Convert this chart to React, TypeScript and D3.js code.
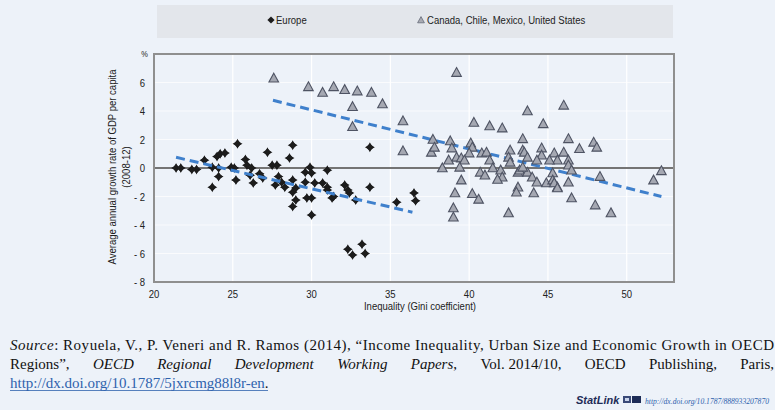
import React, { useLayoutEffect, useRef, useState } from 'react';
import * as d3 from 'd3';

const W = 775;
const H = 410;

const seriesNames = ['Europe', 'Canada, Chile, Mexico, United States'];
const xTicks = [20, 25, 30, 35, 40, 45, 50];
const yTicks = [-8, -6, -4, -2, 0, 2, 4, 6];
const yTickLabels = ['- 8', '- 6', '- 4', '- 2', '0', '2', '4', '6'];

const europeX = [21.4, 21.7, 22.4, 22.7, 23.2, 23.7, 24.0, 24.2, 24.5, 23.7, 24.1, 24.1, 25.3, 24.9, 25.1, 25.2, 25.8, 25.9, 26.2, 26.1, 26.3, 26.7, 26.9, 27.2, 27.5, 27.8, 27.7, 27.9, 28.1, 28.3, 28.8, 28.6, 28.8, 29.0, 28.8, 29.0, 28.8, 29.6, 29.9, 30.0, 29.6, 29.7, 30.0, 30.0, 30.2, 30.7, 31.0, 31.0, 31.0, 31.3, 31.4, 32.1, 32.3, 32.4, 32.8, 33.7, 33.7, 35.4, 36.5, 36.6, 32.3, 32.6, 33.2, 33.4];
const europeY = [0.0, 0.0, -0.1, -0.1, 0.55, -1.35, 0.8, 1.0, 1.05, 0.05, 0.0, -0.6, 1.7, 0.05, 0.0, -0.85, 0.6, 0.2, 0.0, -0.5, -1.05, -0.4, -0.7, 1.1, 0.2, 0.2, -1.2, -0.6, -1.0, -1.35, 1.6, 0.7, -0.85, -1.4, -1.7, -2.25, -2.7, -0.3, 0.05, -0.35, -1.0, -2.1, -2.1, -3.3, -1.05, -1.05, -1.35, -1.55, -0.15, -2.1, -2.0, -1.2, -1.55, -1.75, -2.25, 1.45, -1.35, -2.4, -1.75, -2.3, -5.7, -6.1, -5.35, -6.0];

const americasX = [27.6, 29.8, 30.7, 31.4, 32.1, 32.9, 33.8, 32.6, 34.5, 32.6, 35.8, 35.8, 39.2, 40.3, 41.3, 42.1, 43.7, 44.7, 37.7, 37.6, 38.8, 40.1, 43.4, 42.6, 43.4, 44.6, 37.8, 38.9, 40.2, 40.0, 39.2, 39.5, 39.7, 40.8, 41.1, 41.3, 42.5, 42.6, 43.5, 43.7, 44.6, 44.3, 45.4, 45.6, 38.3, 38.7, 39.4, 40.7, 41.0, 41.5, 42.0, 42.1, 41.8, 43.1, 43.2, 43.7, 44.0, 44.3, 45.3, 45.3, 45.6, 39.5, 39.1, 40.2, 40.6, 43.1, 43.0, 44.1, 39.0, 39.0, 42.5, 44.9, 46.0, 46.3, 47.0, 47.9, 48.1, 46.0, 45.1, 46.3, 46.3, 46.5, 43.4, 45.3, 45.4, 45.6, 46.3, 48.3, 46.5, 48.0, 49.0, 51.7, 52.2];
const americasY = [6.3, 5.7, 5.3, 5.7, 5.5, 5.4, 5.3, 4.3, 4.5, 2.9, 3.3, 1.2, 6.7, 3.2, 2.95, 2.8, 4.0, 3.1, 2.0, 1.1, 1.9, 1.75, 2.05, 1.25, 1.25, 1.4, 1.45, 1.4, 1.45, 1.05, 0.75, 0.7, 0.55, 1.05, 1.1, 0.55, 0.75, 0.4, 1.1, 0.75, 0.9, 0.55, 1.05, 0.55, 0.0, 0.55, 0.05, -0.3, -0.5, 0.0, -0.15, -0.65, -0.8, -0.3, -0.15, -0.3, -0.65, -1.0, -0.35, -1.0, -1.35, -0.85, -1.75, -1.8, -2.2, -1.35, -1.7, -1.75, -2.8, -3.45, -3.15, -1.05, 4.4, 2.05, 1.35, 1.8, 1.45, 1.1, 0.55, 0.55, 0.2, -0.15, 0.05, -0.85, -1.05, -1.4, -1.0, -0.6, -2.1, -2.6, -3.15, -0.85, -0.2];

const europeTrendX = [21.4, 36.4];
const europeTrendY = [0.75, -3.1];
const americasTrendX = [27.55, 52.2];
const americasTrendY = [4.75, -2.0];

const xTitle = 'Inequality (Gini coefficient)';
const yTitle1 = 'Average annual growth rate of GDP per capita';
const yTitle2 = '(2008-12)';

const line2Words: [string, boolean][] = [
  ['Regions\u201d,', false],
  ['OECD', true],
  ['Regional', true],
  ['Development', true],
  ['Working', true],
  ['Papers', true],
  ['Vol.\u00a02014/10,', false],
  ['OECD', false],
  ['Publishing,', false],
  ['Paris,', false],
];

const SANS = "'Liberation Sans', Arial, sans-serif";
const SERIF = "'Liberation Serif', 'Times New Roman', serif";
const SX = 0.83;

function NText(props: { x: number; y: number; anchor?: string; size?: number; rotate?: boolean; children: React.ReactNode }) {
  const { x, y, anchor = 'start', size = 11.5, rotate = false, children } = props;
  const tf = rotate ? `translate(${x},${y}) rotate(-90) scale(${SX},1)` : `translate(${x},${y}) scale(${SX},1)`;
  return (
    <text transform={tf} textAnchor={anchor} fontFamily={SANS} fontSize={size} fill="#222">
      {children}
    </text>
  );
}

export default function App() {
  const x = d3.scaleLinear().domain([20, 53]).range([154, 674]);
  const y = d3.scaleLinear().domain([-8, 8]).range([282, 54]);
  const line = d3.line<[number, number]>().x((d) => x(d[0])).y((d) => y(d[1]));

  const wordRefs = useRef<(SVGTextElement | null)[]>([]);
  const [wordX, setWordX] = useState<number[] | null>(null);

  useLayoutEffect(() => {
    const widths = wordRefs.current.map((el) => (el ? el.getComputedTextLength() : 0));
    const left = 10;
    const right = 774;
    const total = widths.reduce((a, b) => a + b, 0);
    const gap = (right - left - total) / (widths.length - 1);
    const xs: number[] = [];
    let cur = left;
    widths.forEach((w) => {
      xs.push(cur);
      cur += w + gap;
    });
    setWordX(xs);
  }, []);

  const diamond = 'M0,-5 L1.6,-1.6 L5,0 L1.6,1.6 L0,5 L-1.6,1.6 L-5,0 L-1.6,-1.6 Z';
  const diamond2 = 'M0,-4 L4,0 L0,4 L-4,0 Z';
  const tri = 'M0,-5 L4.8,3.8 L-4.8,3.8 Z';

  const eur = europeX.map((v, i) => [v, europeY[i]] as [number, number]);
  const ame = americasX.map((v, i) => [v, americasY[i]] as [number, number]);
  const eTrend = europeTrendX.map((v, i) => [v, europeTrendY[i]] as [number, number]);
  const aTrend = americasTrendX.map((v, i) => [v, americasTrendY[i]] as [number, number]);

  const [x0, x1] = x.range();
  const [yb, yt] = y.range();

  return (
    <svg width={W} height={H} style={{ position: 'absolute', left: 0, top: 0 }} xmlns="http://www.w3.org/2000/svg">
      <rect x={0} y={0} width={W} height={H} fill="#edf2f9" />
      {/* legend */}
      <rect x={157} y={5} width={516} height={33} fill="#e3e6eb" />
      <path d="M0,-3.6 L3.6,0 L0,3.6 L-3.6,0 Z" transform="translate(271,20)" fill="#1c1c1c" />
      <NText x={276} y={24}>{seriesNames[0]}</NText>
      <path d="M0,-3.4 L3.4,2.8 L-3.4,2.8 Z" transform="translate(421,20)" fill="#a9abb3" stroke="#666b78" strokeWidth={0.8} />
      <NText x={427} y={24}>{seriesNames[1]}</NText>

      {/* grid */}
      {xTicks.filter((t) => t > 20).map((t) => (
        <line key={'gx' + t} x1={x(t)} x2={x(t)} y1={yt} y2={yb} stroke="#ffffff" strokeWidth={1.2} />
      ))}
      {yTicks.filter((t) => t > -8 && t !== 0).map((t) => (
        <line key={'gy' + t} x1={x0} x2={x1} y1={y(t)} y2={y(t)} stroke="#ffffff" strokeOpacity={0.7} strokeWidth={1} />
      ))}
      <line x1={x0} x2={x1} y1={y(0)} y2={y(0)} stroke="#747474" strokeWidth={2} />
      <rect x={x0} y={yt} width={x1 - x0} height={yb - yt} fill="none" stroke="#8f8f8f" strokeWidth={2} />

      {/* europe */}
      {eur.map((d, i) => (
        <g key={'e' + i} transform={`translate(${x(d[0])},${y(d[1])})`} fill="#1c1c1c">
          <path d={diamond} />
          <path d={diamond2} />
        </g>
      ))}
      <path d={line(eTrend) || ''} fill="none" stroke="#3f80cc" strokeWidth={3} strokeDasharray="9,5" />
      <path d={line(aTrend) || ''} fill="none" stroke="#3f80cc" strokeWidth={3} strokeDasharray="9,5" />
      {ame.map((d, i) => (
        <path key={'a' + i} d={tri} transform={`translate(${x(d[0])},${y(d[1])})`} fill="#a5a8b2" stroke="#4e5363" strokeWidth={1.1} />
      ))}

      {/* axes labels */}
      {yTicks.map((t, i) => (
        <NText key={'yl' + t} x={145} y={y(t) + 4} anchor="end">{yTickLabels[i]}</NText>
      ))}
      <NText x={148} y={57} anchor="end" size={9}>%</NText>
      {xTicks.map((t) => (
        <NText key={'xl' + t} x={x(t)} y={298} anchor="middle">{t}</NText>
      ))}
      <NText x={420} y={310} anchor="middle">{xTitle}</NText>
      <NText x={116} y={167} anchor="middle" rotate>{yTitle1}</NText>
      <NText x={130} y={167} anchor="middle" rotate>{yTitle2}</NText>

      {/* source */}
      <text x={10} y={350} fontFamily={SERIF} fontSize={15} fill="#111" textLength={764} lengthAdjust="spacing">
        <tspan fontStyle="italic">Source</tspan>
        <tspan>: Royuela, V., P. Veneri and R. Ramos (2014), {'\u201c'}Income Inequality, Urban Size and Economic Growth in OECD</tspan>
      </text>
      {line2Words.map(([w, it], i) => (
        <text
          key={'w' + i}
          ref={(el) => {
            wordRefs.current[i] = el;
          }}
          x={wordX ? wordX[i] : 10 + i * 70}
          y={369}
          fontFamily={SERIF}
          fontSize={15}
          fill="#111"
          fontStyle={it ? 'italic' : 'normal'}
        >
          {w}
          {w === 'Papers' ? <tspan fontStyle="normal">,</tspan> : null}
        </text>
      ))}
      <text x={10} y={388} fontFamily={SERIF} fontSize={15} fill="#2f62ad">
        http://dx.doi.org/10.1787/5jxrcmg88l8r-en<tspan fill="#111">.</tspan>
      </text>
      <line x1={10} x2={268} y1={390.5} y2={390.5} stroke="#2f62ad" strokeWidth={0.8} />
      <text x={576} y={404} fontFamily={SANS} fontSize={11} fontWeight="bold" fontStyle="italic" fill="#1e2c57">StatLink</text>
      <g transform="translate(623,396)">
        <rect x={0} y={0} width={8} height={7} fill="#3a4a78" />
        <rect x={9} y={0} width={9} height={7} fill="#1e2c57" />
        <rect x={2} y={2} width={4} height={3} fill="#c9d3ea" />
      </g>
      <text x={645} y={404} fontFamily={SERIF} fontSize={9} fontStyle="italic" fill="#2f62ad" textLength={124} lengthAdjust="spacingAndGlyphs">http://dx.doi.org/10.1787/888933207870</text>
    </svg>
  );
}
